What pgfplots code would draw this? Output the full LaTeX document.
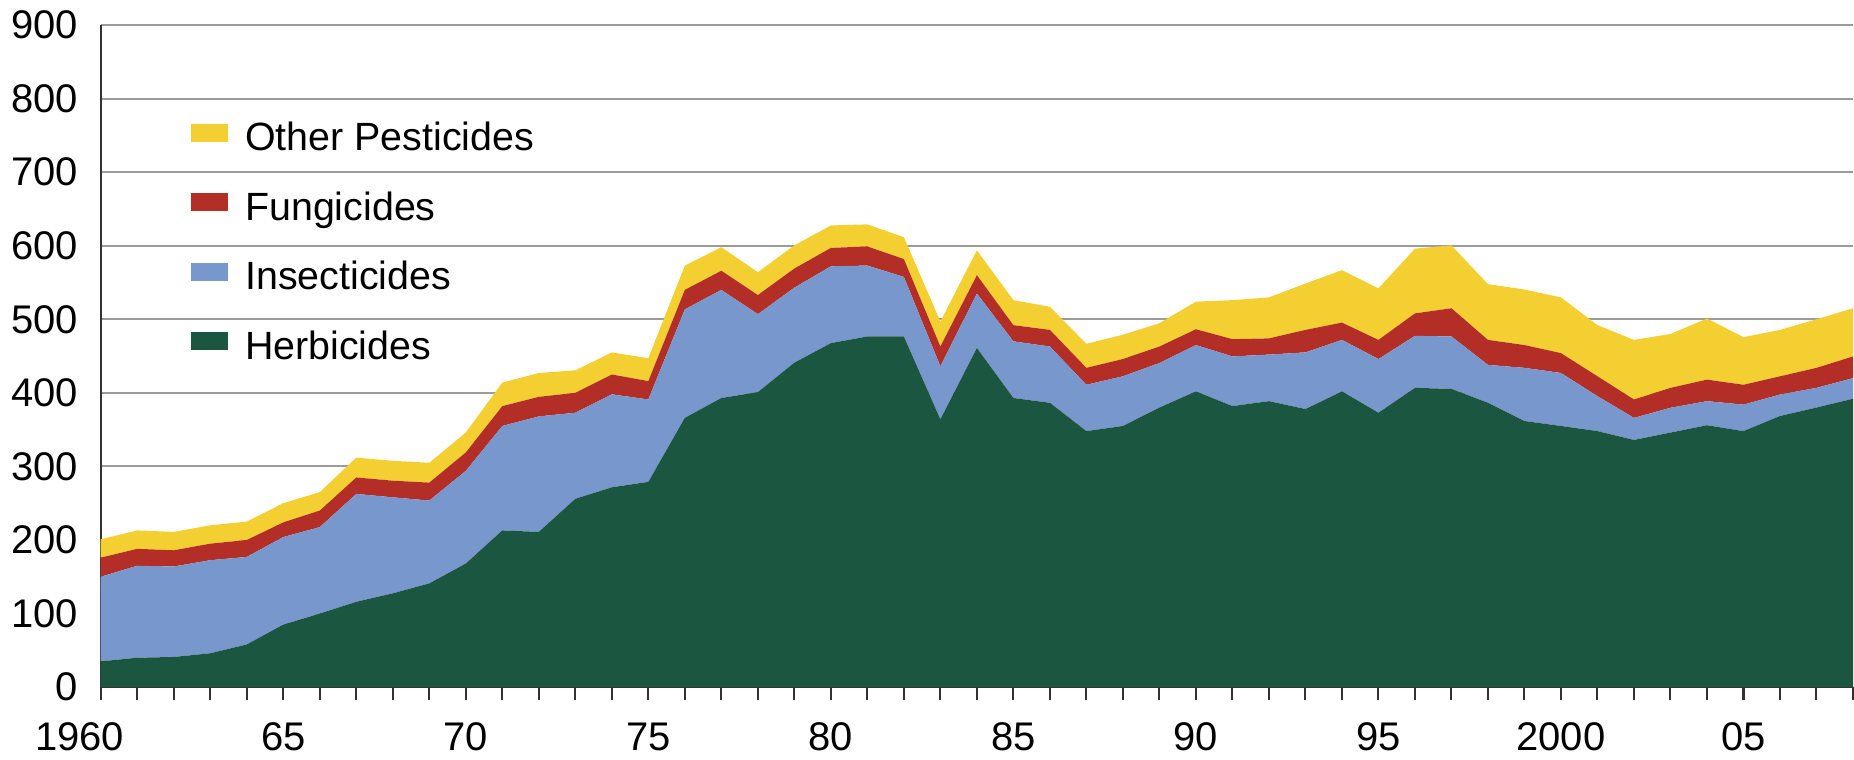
\documentclass[border=0pt]{standalone}
\usepackage{pgfplots}
\pgfplotsset{compat=1.18}
\usepackage{fontspec}
\setmainfont{Liberation Sans}
\definecolor{cO}{RGB}{244,207,50}
\definecolor{cF}{RGB}{178,46,38}
\definecolor{cI}{RGB}{120,151,204}
\definecolor{cH}{RGB}{26,86,64}
\definecolor{gridc}{RGB}{155,155,155}
\definecolor{axc}{RGB}{50,50,50}
\pgfplotsset{layers/mylayers/.define layer set={axis background,axis grid,main,axis ticks,axis lines,axis tick labels,axis descriptions,axis foreground}{}}
\begin{document}
\begin{tikzpicture}
\begin{axis}[
  at={(0pt,0pt)}, anchor=south west,
  scale only axis, width=876.6pt, height=331.25pt,
  xmin=1960, xmax=2008, ymin=0, ymax=900,
  stack plots=y,
  set layers=mylayers,
  axis x line=bottom, axis y line=left,
  axis line style={draw=axc, line width=1pt, -},
  xtick={1960,1965,...,2005},
  xticklabels={\hspace*{-21pt}1960,65,70,75,80,85,90,95,2000,05},
  minor xtick={1961,...,2008},
  tick align=outside,
  major tick length=6.25pt, minor tick length=6.25pt,
  xtick style={draw=axc, line width=1pt},
  ytick={0,100,...,900},
  ytick style={draw=none},
  ymajorgrids,
  major grid style={draw=gridc, line width=1pt},
  ticklabel style={font=\fontsize{20}{22}\selectfont},
  /pgf/number format/assume math mode=true,
  yticklabel style={inner sep=0pt, xshift=-5pt},
  xticklabel style={inner sep=0pt, yshift=-11.5pt},
  legend style={at={(0.0514,0.854)}, anchor=north west, draw=none, fill=none,
    inner sep=0pt, font=\fontsize{19.7}{21}\selectfont, row sep=19pt,
    nodes={inner sep=0pt},
    /tikz/every odd column/.append style={column sep=8.5pt}},
  legend cell align=left,
  reverse legend,
  legend image code/.code={\fill[#1,draw=none] (0pt,-2pt) rectangle (18.5pt,7pt);},
]
\addplot[fill=cH, draw=none] coordinates {
(1960,35) (1961,40) (1962,41) (1963,46) (1964,58) (1965,85) (1966,100) (1967,116) (1968,127.5) (1969,141)
(1970,168) (1971,213) (1972,211) (1973,256) (1974,271.6) (1975,279) (1976,366) (1977,393) (1978,401) (1979,441)
(1980,467.6) (1981,476.6) (1982,476.6) (1983,364) (1984,461) (1985,393) (1986,386.5) (1987,348) (1988,355) (1989,380)
(1990,402) (1991,382) (1992,388.7) (1993,378) (1994,402) (1995,373) (1996,406.8) (1997,405.4) (1998,386.5) (1999,361.7)
(2000,355) (2001,348) (2002,336) (2003,346) (2004,356) (2005,348) (2006,368.5) (2007,380) (2008,392)
} \closedcycle;
\addlegendentry{Herbicides}
\addplot[fill=cI, draw=none] coordinates {
(1960,115) (1961,125) (1962,123) (1963,126.5) (1964,119) (1965,119) (1966,117.5) (1967,146.6) (1968,130.5) (1969,112.6)
(1970,126) (1971,142) (1972,157) (1973,117) (1974,126.4) (1975,112) (1976,147.5) (1977,147) (1978,106) (1979,102)
(1980,104.4) (1981,96.4) (1982,81) (1983,72) (1984,74) (1985,77) (1986,76.5) (1987,63) (1988,67.5) (1989,60.5)
(1990,63) (1991,67.5) (1992,63.3) (1993,77) (1994,70) (1995,73) (1996,70.7) (1997,71.2) (1998,51.5) (1999,72.3)
(2000,72) (2001,47.5) (2002,30) (2003,33.7) (2004,32.7) (2005,36) (2006,29.2) (2007,26.8) (2008,28)
} \closedcycle;
\addlegendentry{Insecticides}
\addplot[fill=cF, draw=none] coordinates {
(1960,26) (1961,23) (1962,22) (1963,22.5) (1964,23) (1965,20) (1966,22.5) (1967,22.4) (1968,22.6) (1969,24.4)
(1970,25) (1971,27) (1972,26.6) (1973,27) (1974,27) (1975,25) (1976,26.5) (1977,26) (1978,26) (1979,26)
(1980,25) (1981,26) (1982,24.3) (1983,27) (1984,25) (1985,22) (1986,22.6) (1987,23) (1988,23.5) (1989,22.5)
(1990,21.5) (1991,23.5) (1992,22) (1993,30.6) (1994,23.5) (1995,26) (1996,30.5) (1997,38.4) (1998,34) (1999,31)
(2000,27) (2001,27) (2002,25) (2003,27.1) (2004,29.3) (2005,27) (2006,24.8) (2007,27.2) (2008,29.5)
} \closedcycle;
\addlegendentry{Fungicides}
\addplot[fill=cO, draw=none] coordinates {
(1960,25) (1961,25) (1962,25) (1963,25) (1964,25) (1965,26) (1966,25) (1967,27) (1968,27) (1969,27)
(1970,27) (1971,32) (1972,32.4) (1973,30.6) (1974,30) (1975,31) (1976,33) (1977,32) (1978,31) (1979,31.5)
(1980,30.5) (1981,30) (1982,29.7) (1983,34) (1984,33.7) (1985,34) (1986,31.4) (1987,32.7) (1988,33) (1989,31.6)
(1990,37.5) (1991,53) (1992,55.7) (1993,63) (1994,71.2) (1995,70) (1996,88) (1997,85.5) (1998,75.7) (1999,75.5)
(2000,75.7) (2001,69.5) (2002,81) (2003,73.2) (2004,83) (2005,64.7) (2006,63.1) (2007,66) (2008,65.5)
} \closedcycle;
\addlegendentry{Other Pesticides}
\end{axis}
\path (-50.4pt,-36pt) rectangle (876.6pt,343.75pt);
\end{tikzpicture}
\end{document}
